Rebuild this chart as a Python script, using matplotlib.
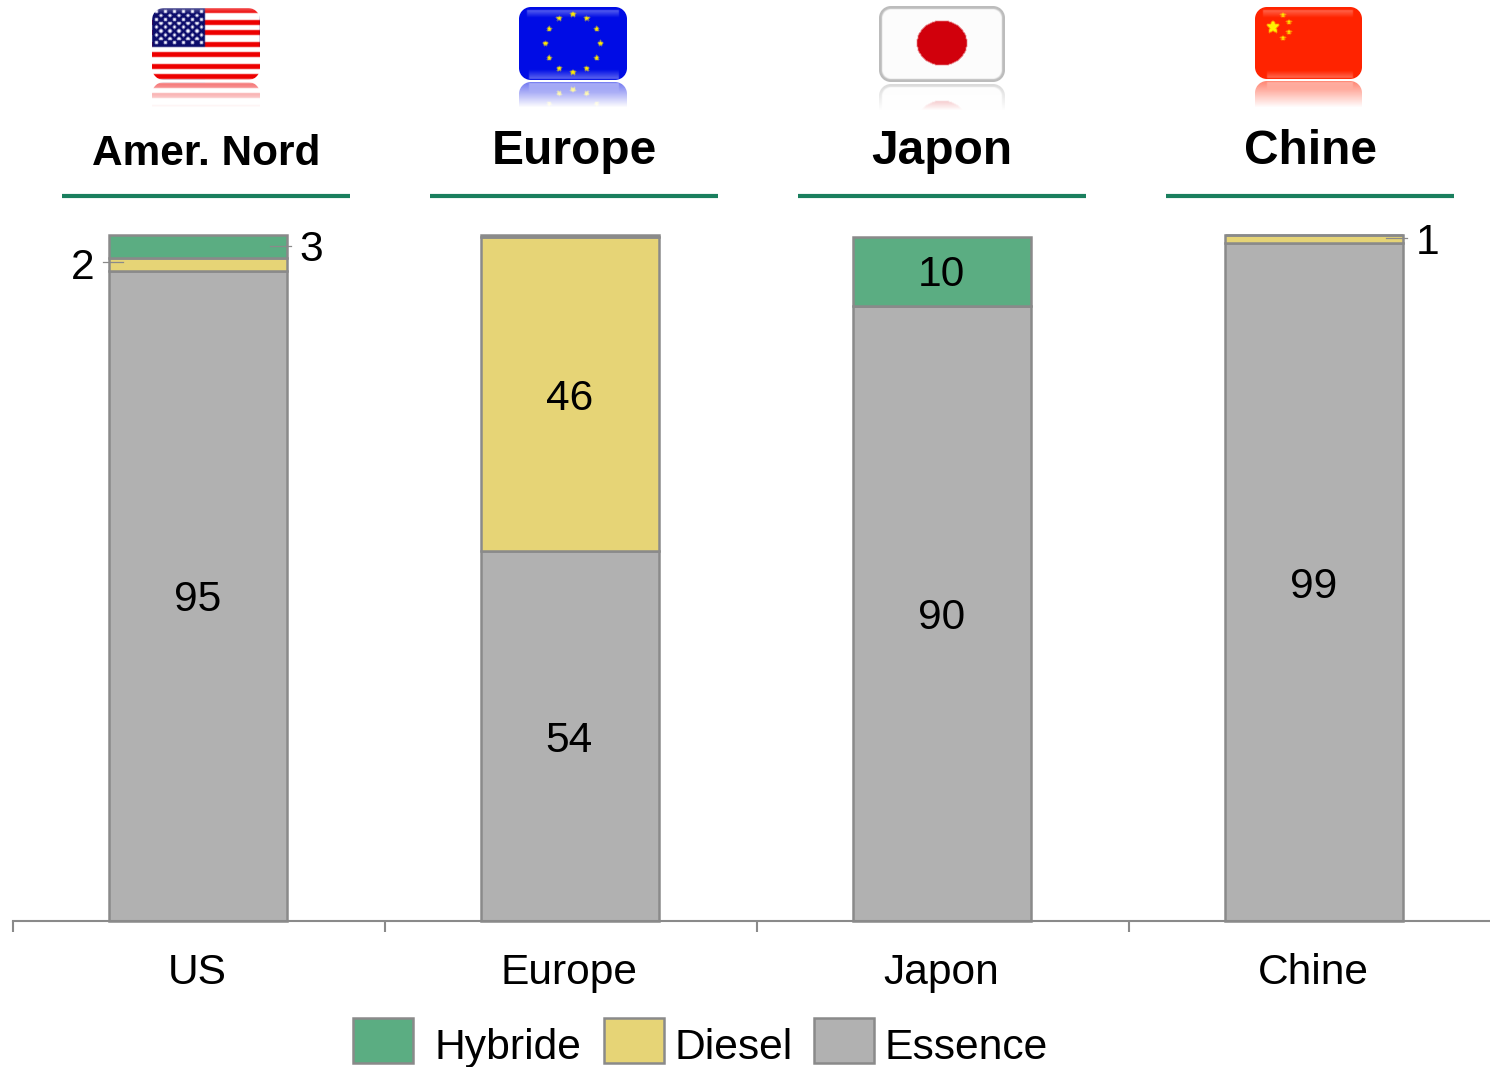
import numpy as np
import matplotlib
matplotlib.use("Agg")
import matplotlib.pyplot as plt
from matplotlib.patches import Rectangle
from matplotlib.transforms import ScaledTranslation

plt.rcParams['font.family'] = ['Liberation Sans', 'DejaVu Sans']

# ---- data ----
categories = ['US', 'Europe', 'Japon', 'Chine']
regions = ['Amer. Nord', 'Europe', 'Japon', 'Chine']
essence = [94.8, 53.9, 89.6, 98.8]
diesel = [1.9, 45.8, 0.0, 1.2]
hybride = [3.3, 0.3, 10.1, 0.0]
essence_labels = ['95', '54', '90', '99']
diesel_labels = ['2', '46', '', '1']
hybride_labels = ['3', '', '10', '']
series_names = ['Hybride', 'Diesel', 'Essence']

GREEN, YELLOW, GREY = '#5BAD82', '#E6D476', '#B1B1B1'
EDGE = '#8A8A8A'
W, H = 1490, 1067

fig = plt.figure(figsize=(W / 100, H / 100), dpi=100, facecolor='white')

# pixel overlay for header decoration and legend
ov = fig.add_axes([0, 0, 1, 1], zorder=1)
ov.set_xlim(0, W); ov.set_ylim(H, 0); ov.axis('off')

# main axes
ax = fig.add_axes([13 / W, (H - 921) / H, (W - 13) / W, (921 - 235) / H], zorder=2)
ax.patch.set_alpha(0)
x = np.arange(len(categories))
ess, die, hyb = np.array(essence), np.array(diesel), np.array(hybride)
kw = dict(width=0.478, edgecolor=EDGE, linewidth=1.8, clip_on=False)
ax.bar(x, ess, color=GREY, **kw)
ax.bar(x, die, bottom=ess, color=YELLOW, **kw)
ax.bar(x, hyb, bottom=ess + die, color=GREEN, **kw)
left = -0.497
ax.set_xlim(left, left + (W - 13) / 372)
ax.set_ylim(0, 100)
for s in ['top', 'right', 'left']:
    ax.spines[s].set_visible(False)
ax.spines['bottom'].set_color(EDGE)
ax.spines['bottom'].set_linewidth(1.5)
ax.set_yticks([])
ax.set_xticks(x, categories, fontsize=30.6, color='black')
ax.tick_params(axis='x', which='major', length=0, pad=23)
shift = ScaledTranslation(-1 / 100, 0, fig.dpi_scale_trans)
for t in ax.get_xticklabels():
    t.set_transform(t.get_transform() + shift)
ax.set_xticks(left + np.arange(4), minor=True)
ax.tick_params(axis='x', which='minor', length=8, width=1.5, color=EDGE)

# inside labels
lab = dict(ha='center', va='center', fontsize=30.6, color='black')
dx = -0.002
for i in range(4):
    ax.text(i + dx, ess[i] / 2 - 0.65, essence_labels[i], **lab)
ax.text(1 + dx, ess[1] + die[1] / 2 - 0.65, diesel_labels[1], **lab)
ax.text(2 + dx, ess[2] + hyb[2] / 2 - 0.55, hybride_labels[2], **lab)

# outside labels with leader lines
def outside(yc, text, lx, x0, x1, ly):
    ax.plot([x0, x1], [yc, yc], color=EDGE, lw=0.9, clip_on=False, zorder=5)
    ax.text(lx, yc + ly, text, clip_on=False, **lab)

outside(ess[0] + die[0] / 2 + 0.25, diesel_labels[0], -0.309, -0.256, -0.2, -0.75)
outside(ess[0] + die[0] + hyb[0] / 2 + 0.1, hybride_labels[0], 0.305, 0.194, 0.25, -0.65)
outside(ess[3] + die[3] / 2 + 0.1, diesel_labels[3], 3.305, 3.194, 3.25, -0.65)

# ---- flags ----
def round_mask(w, h, r):
    yy, xx = np.mgrid[0:h, 0:w] + 0.5
    dx_ = np.maximum(np.maximum(r - xx, xx - (w - r)), 0)
    dy_ = np.maximum(np.maximum(r - yy, yy - (h - r)), 0)
    return np.clip(r + 0.5 - np.hypot(dx_, dy_), 0, 1)

def gloss(img, x0, x1, y0, y1, a):
    # soft white sheen band
    ramp = np.linspace(a, 0, y1 - y0)[:, None, None]
    if a < 0:
        ramp = np.linspace(0, -a, y1 - y0)[:, None, None]
    part = img[y0:y1, x0:x1, :3]
    img[y0:y1, x0:x1, :3] = part * (1 - ramp) + ramp

def star_mask(w, h, cx, cy, R):
    yy, xx = np.mgrid[0:h, 0:w] + 0.5
    ang = np.arctan2(xx - cx, -(yy - cy))
    rr = np.hypot(xx - cx, yy - cy)
    k = np.abs(((ang + np.pi / 5) % (2 * np.pi / 5)) - np.pi / 5) / (np.pi / 5)
    lim = R * (0.45 + 0.55 * (1 - k) ** 1.2)
    return rr <= lim

def put_stars(img, pts, R, col):
    h, w = img.shape[:2]
    for cx, cy in pts:
        img[star_mask(w, h, cx, cy, R), :3] = col

def soften(img):
    out = img.copy()
    rgb = img[:, :, :3]
    s = rgb.copy()
    for ax_, d in ((0, 1), (0, -1), (1, 1), (1, -1)):
        s = s + 0.5 * np.roll(rgb, d, axis=ax_)
    out[:, :, :3] = s / 3.0
    return out

def flag_us(w, h):
    img = np.ones((h, w, 4))
    for k in range(7):
        y0 = int(round(k * 11 + 0.5))
        img[y0:y0 + 5, :, :3] = (0.93, 0.0, 0.0)
    img[:39, :53, :3] = (0.05, 0.05, 0.42)
    yy, xx = np.mgrid[0:h, 0:w] + 0.5
    for r in range(9):
        for c in range(6 if r % 2 == 0 else 5):
            cx = 4.5 + c * 9 + (4.5 if r % 2 else 0)
            cy = 3.5 + r * 3.9
            img[np.hypot(xx - cx, yy - cy) < 1.7, :3] = (0.95, 0.95, 1.0)
    gloss(img, 0, w, 0, 6, 0.3)
    return img

def flag_eu(w, h):
    img = np.ones((h, w, 4))
    img[:, :, :3] = (0.0, 0.05, 0.9)
    gloss(img, 8, w - 8, 3, 11, 0.32)
    gloss(img, 10, w - 8, h - 11, h - 1, -0.35)
    t = np.deg2rad(np.arange(0, 360, 30))
    pts = np.c_[54 + 27.5 * np.sin(t), 36.5 - 29 * np.cos(t)]
    put_stars(img, pts, 3.0, (1.0, 0.92, 0.0))
    return img

def flag_jp(w, h):
    img = np.ones((h, w, 4))
    img[:, :, :3] = (0.99, 0.99, 0.99)
    yy, xx = np.mgrid[0:h, 0:w] + 0.5
    d = np.hypot((xx - w / 2) / 25, (yy - 37) / 22.5)
    img[d < 1, :3] = (0.82, 0.0, 0.05)
    return img

def flag_cn(w, h):
    img = np.ones((h, w, 4))
    img[:, :, :3] = (1.0, 0.14, 0.0)
    gloss(img, 8, w - 9, 3, 11, 0.28)
    gloss(img, 12, w - 9, h - 9, h - 1, -0.3)
    put_stars(img, [(18, 20)], 7.0, (1.0, 0.95, 0.0))
    put_stars(img, [(28, 8), (34, 15), (34, 25), (28, 31)], 3.0, (1.0, 0.9, 0.0))
    return img

def draw_flag(builder, x0, y0, x1, y1, refl_h, border=None):
    w, h = x1 - x0, y1 - y0
    img = builder(w, h)
    mask = round_mask(w, h, 12)
    if border is not None:
        inner = np.zeros_like(mask)
        inner[3:h - 3, 3:w - 3] = round_mask(w - 6, h - 6, 9)
        img[:, :, :3] = img[:, :, :3] * inner[..., None] + np.array(border) * (1 - inner[..., None])
    img = soften(img)
    img[:, :, 3] = mask
    ov.imshow(img, extent=(x0, x1, y1, y0), aspect='auto', interpolation='bilinear', zorder=2)
    # reflection
    ref = img[::-1][:refl_h].copy()
    fade = np.linspace(0.55, 0.0, refl_h)[:, None]
    ref[:, :, 3] = ref[:, :, 3] * fade
    ov.imshow(ref, extent=(x0, x1, y1 + 2 + refl_h, y1 + 2), aspect='auto',
              interpolation='bilinear', zorder=2)

draw_flag(flag_us, 152, 8, 260, 80, 26)
draw_flag(flag_eu, 519, 7, 627, 80, 26)
draw_flag(flag_jp, 879, 6, 1005, 82, 27, border=(0.74, 0.74, 0.74))
draw_flag(flag_cn, 1255, 7, 1362, 79, 27)
ov.set_xlim(0, W); ov.set_ylim(H, 0)

# ---- region headers ----
head_x = [206, 574, 942, 1310]
head_y = [154, 152, 152, 152]
head_fs = [30.5, 34.5, 34.5, 34.5]
for name, hx, hy, fs in zip(regions, head_x, head_y, head_fs):
    ov.text(hx, hy, name, ha='center', va='center', fontsize=fs, fontweight='bold', color='black')
    ov.plot([hx - 144, hx + 144], [196, 196], color='#1A7F5E', lw=3, solid_capstyle='butt')

# ---- legend ----
leg_cols = [GREEN, YELLOW, GREY]
leg_px = [353, 604, 814]
leg_tx = [435, 675, 885]
for name, c, px, tx in zip(series_names, leg_cols, leg_px, leg_tx):
    ov.add_patch(Rectangle((px, 1018), 60, 45, facecolor=c, edgecolor=EDGE, lw=1.8))
    ov.text(tx, 1048, name, ha='left', va='center', fontsize=30.7, color='black')

fig.savefig('out.png', dpi=100, facecolor='white')
